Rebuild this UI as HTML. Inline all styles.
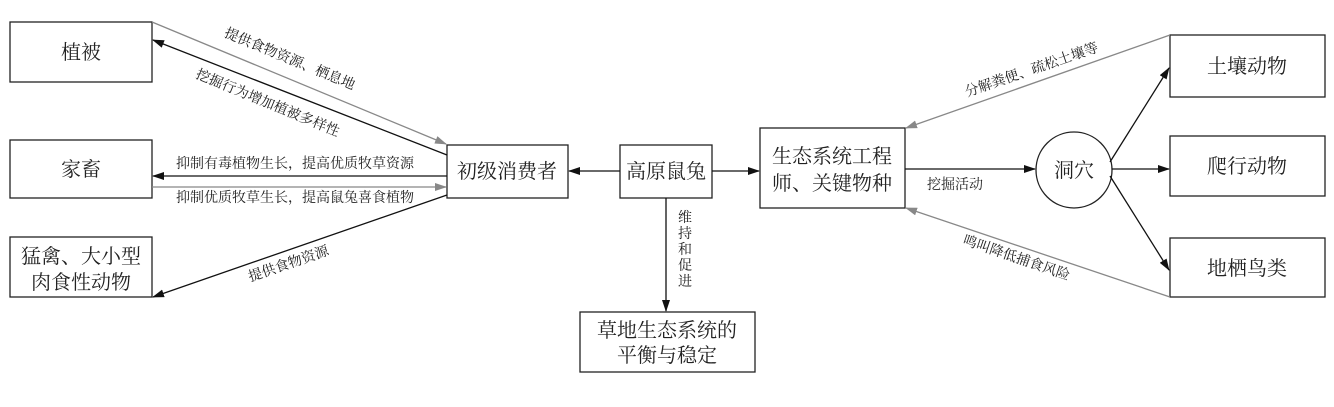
<!DOCTYPE html>
<html><head><meta charset="utf-8"><style>
body{margin:0;background:#fff;}
svg text{font-family:"Liberation Serif","Noto Serif CJK SC","Noto Sans CJK SC",serif;fill:#222;}
</style></head><body>
<svg width="1334" height="402" viewBox="0 0 1334 402" xmlns="http://www.w3.org/2000/svg">
<defs>
<marker id="b" markerWidth="12" markerHeight="8" refX="11" refY="4" orient="auto" markerUnits="userSpaceOnUse"><path d="M0,0 L12,4 L0,8 z" fill="#111"/></marker>
<marker id="g" markerWidth="12" markerHeight="8" refX="11" refY="4" orient="auto" markerUnits="userSpaceOnUse"><path d="M0,0 L12,4 L0,8 z" fill="#888"/></marker>
</defs>
<g fill="#fff" stroke="#222" stroke-width="1.3">
<rect x="10" y="22" width="142" height="60"/>
<rect x="10" y="140" width="142" height="58"/>
<rect x="10" y="237" width="142" height="60"/>
<rect x="447" y="145" width="121" height="53"/>
<rect x="620" y="145" width="92" height="53"/>
<rect x="760" y="128" width="145" height="80"/>
<circle cx="1074" cy="170" r="38"/>
<rect x="1170" y="35" width="155" height="62"/>
<rect x="1170" y="136" width="155" height="60"/>
<rect x="1170" y="238" width="155" height="59"/>
<rect x="580" y="312" width="175" height="60"/>
</g>
<g font-size="20" text-anchor="middle">
<text x="81" y="59">植被</text>
<text x="81" y="176">家畜</text>
<text x="81" y="263">猛禽、大小型</text>
<text x="81" y="289">肉食性动物</text>
<text x="507" y="178">初级消费者</text>
<text x="666" y="178">高原鼠兔</text>
<text x="832" y="163">生态系统工程</text>
<text x="832" y="190">师、关键物种</text>
<text x="1074" y="177">洞穴</text>
<text x="1247" y="73">土壤动物</text>
<text x="1247" y="173">爬行动物</text>
<text x="1247" y="275">地栖鸟类</text>
<text x="667" y="337">草地生态系统的</text>
<text x="667" y="362">平衡与稳定</text>
</g>
<g stroke-width="1.3" fill="none">
<line x1="152" y1="22" x2="446" y2="144" stroke="#888" marker-end="url(#g)"/>
<line x1="447" y1="155" x2="153" y2="40" stroke="#111" marker-end="url(#b)"/>
<line x1="447" y1="176" x2="153" y2="176" stroke="#111" marker-end="url(#b)"/>
<line x1="152" y1="187" x2="446" y2="187" stroke="#888" marker-end="url(#g)"/>
<line x1="447" y1="195" x2="153" y2="297" stroke="#111" marker-end="url(#b)"/>
<line x1="620" y1="171" x2="569" y2="171" stroke="#111" marker-end="url(#b)"/>
<line x1="712" y1="171" x2="759" y2="171" stroke="#111" marker-end="url(#b)"/>
<line x1="666" y1="198" x2="666" y2="311" stroke="#111" marker-end="url(#b)"/>
<line x1="1170" y1="35" x2="906" y2="128" stroke="#888" marker-end="url(#g)"/>
<line x1="905" y1="169" x2="1035" y2="169" stroke="#111" marker-end="url(#b)"/>
<line x1="1170" y1="297" x2="906" y2="208" stroke="#888" marker-end="url(#g)"/>
<line x1="1110" y1="162" x2="1169" y2="68" stroke="#111" marker-end="url(#b)"/>
<line x1="1112" y1="169" x2="1169" y2="169" stroke="#111" marker-end="url(#b)"/>
<line x1="1110" y1="176" x2="1169" y2="270" stroke="#111" marker-end="url(#b)"/>
</g>
<g font-size="14" text-anchor="middle">
<text transform="translate(288,63) rotate(22.5)">提供食物资源、栖息地</text>
<text transform="translate(266,107) rotate(22.5)">挖掘行为增加植被多样性</text>
<text x="295" y="168">抑制有毒植物生长，提高优质牧草资源</text>
<text x="295" y="202">抑制优质牧草生长，提高鼠兔喜食植物</text>
<text transform="translate(290,268) rotate(-19)">提供食物资源</text>
<text transform="translate(1033,74) rotate(-19)">分解粪便、疏松土壤等</text>
<text x="955" y="189">挖掘活动</text>
<text transform="translate(1015,262) rotate(19)">鸣叫降低捕食风险</text>
</g>
<g font-size="14" text-anchor="middle">
<text x="685" y="222">维</text>
<text x="685" y="238">持</text>
<text x="685" y="254">和</text>
<text x="685" y="270">促</text>
<text x="685" y="286">进</text>
</g>
</svg>
</body></html>
